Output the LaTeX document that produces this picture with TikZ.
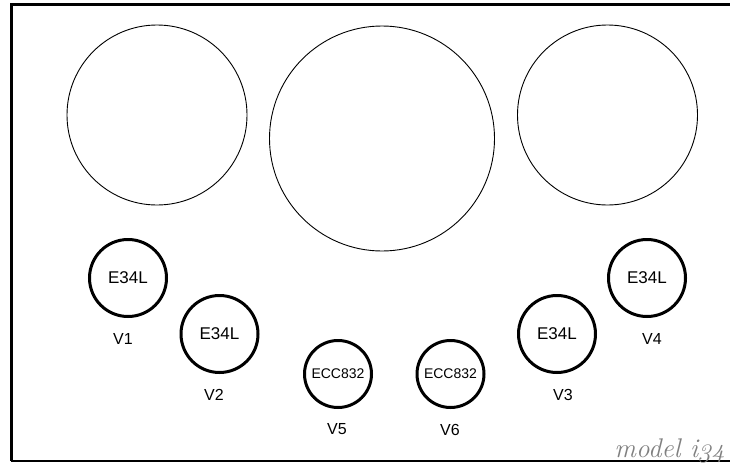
\documentclass[tikz,border=0pt]{standalone}
\usepackage{fontspec}
\setmainfont{Liberation Sans}
\newfontfamily\modelfont{Latin Modern Roman}
\definecolor{modelgray}{RGB}{128,128,128}

\begin{document}
\begin{tikzpicture}[x=1pt,y=-1pt]
        \tikzset{meter/.style = {shape=circle,draw,line width=0.9pt,inner sep=0pt}}
        \tikzset{tube/.style = {shape=circle,draw,line width=3pt,inner sep=0pt,minimum size=77pt,font=\fontsize{17}{20}\selectfont}}
        \tikzset{driver/.style = {tube,minimum size=67pt,font=\fontsize{14}{16}\selectfont}}
        \tikzset{tubename/.style = {inner sep=0pt,font=\fontsize{16}{19}\selectfont}}
        \useasboundingbox (0,0) rectangle (730,463);
        % frame
        \draw[line width=2.7pt] (11.3,461) -- (11.3,4.3) -- (730,4.3);
        \draw[line width=1.3pt] (11.3,461) -- (730,461);
        % meters
        \node[meter,minimum size=180pt] (meterL) at (157,115) {};
        \node[meter,minimum size=225pt] (meterC) at (382,138.5) {};
        \node[meter,minimum size=180pt] (meterR) at (607.5,115) {};
        % tubes
        \node[tube] (v1) at (128,278) {E34L};
        \node[tube] (v2) at (219.5,334) {E34L};
        \node[driver] (v5) at (338,374) {ECC832};
        \node[driver] (v6) at (450.5,374) {ECC832};
        \node[tube] (v3) at (557,334) {E34L};
        \node[tube] (v4) at (647,278) {E34L};
        % names
        \node[tubename] (v1name) at (123,339) {V1};
        \node[tubename] (v2name) at (214,395) {V2};
        \node[tubename] (v5name) at (337,429.5) {V5};
        \node[tubename] (v6name) at (450,429.5) {V6};
        \node[tubename] (v3name) at (563,394.5) {V3};
        \node[tubename] (v4name) at (652,339) {V4};
        % model
        \node[anchor=base east,inner sep=0pt,text=modelgray,font=\modelfont\itshape\fontsize{27}{31}\selectfont] (model) at (725,457) {model i\oldstylenums{34}};
\end{tikzpicture}
\end{document}
